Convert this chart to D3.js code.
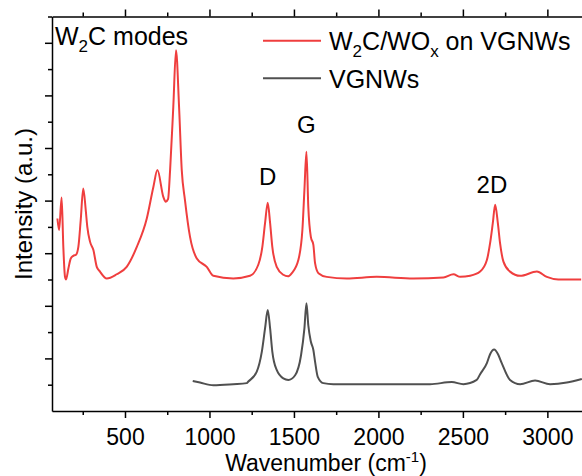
<!DOCTYPE html>
<html>
<head>
<meta charset="utf-8">
<script src="https://cdn.jsdelivr.net/npm/d3@7"></script>
<style>
  body { margin: 0; background: #fff; }
  svg { display: block; font-family: "Liberation Sans", Arial, sans-serif; }
</style>
</head>
<body>
<div id="chart"></div>
<script>
const width = 582;
const height = 476;
const margin = { top: 16.5, right: 0, bottom: 65, left: 52 };

const redColor = '#ef3e3e';
const greyColor = '#505050';

// W2C/WOx on VGNWs spectrum (wavenumber, intensity a.u.)
const redWn = [100, 110, 125, 135, 145, 151, 165, 179, 194, 210, 224, 238, 253, 268, 277, 293, 313, 333, 352, 392,
  451, 510, 570, 629, 668, 692, 727, 741, 755, 767, 786, 802, 820, 836, 855, 885, 925, 984, 1023, 1141,
  1240, 1289, 1313, 1329, 1345, 1359, 1372, 1398, 1437, 1465, 1487, 1526, 1550, 1562, 1574, 1585, 1600, 1615, 1625, 1645,
  1694, 1813, 1990, 2207, 2385, 2444, 2484, 2543, 2602, 2642, 2661, 2677, 2691, 2707, 2720, 2740, 2779, 2839, 2938, 2997,
  3065, 3200];
const redInt = [3.66, 3.44, 4.06, 3.12, 2.55, 2.50, 2.71, 2.90, 2.95, 2.97, 3.12, 3.63, 4.23, 3.81, 3.50, 3.22, 3.06, 2.74, 2.65, 2.52,
  2.60, 2.74, 3.12, 3.66, 4.26, 4.58, 4.07, 3.98, 4.03, 4.58, 5.79, 6.86, 5.79, 4.58, 4.01, 3.31, 2.90, 2.74, 2.57, 2.52,
  2.57, 2.78, 3.12, 3.57, 3.96, 3.57, 3.12, 2.74, 2.59, 2.56, 2.62, 2.87, 3.44, 4.20, 4.93, 3.88, 3.31, 3.16, 2.81, 2.62,
  2.55, 2.52, 2.55, 2.52, 2.54, 2.60, 2.55, 2.57, 2.65, 2.87, 3.19, 3.57, 3.92, 3.57, 3.19, 2.84, 2.65, 2.57, 2.65, 2.55,
  2.50, 2.50];

// VGNWs spectrum
const greyWn = [901, 944, 1023, 1141, 1221, 1230, 1280, 1310, 1329, 1345, 1359, 1372, 1398, 1437, 1467, 1507, 1542, 1562, 1574, 1585,
  1600, 1615, 1625, 1641, 1674, 1733, 2010, 2306, 2434, 2503, 2582, 2602, 2642, 2661, 2685, 2708, 2730, 2779, 2839, 2927,
  3016, 3115, 3204];
const greyInt = [0.57, 0.54, 0.49, 0.51, 0.53, 0.56, 0.75, 1.13, 1.57, 1.92, 1.57, 1.13, 0.78, 0.62, 0.59, 0.68, 1.06, 1.57, 2.05, 1.63,
  1.32, 1.16, 0.94, 0.65, 0.53, 0.51, 0.51, 0.51, 0.55, 0.51, 0.59, 0.70, 0.91, 1.08, 1.17, 1.08, 0.91, 0.59, 0.51, 0.58,
  0.51, 0.54, 0.61];

const xMajor = [500, 1000, 1500, 2000, 2500, 3000];
const xMinor = [250, 750, 1250, 1750, 2250, 2750];
const yMajor = [1, 2, 3, 4, 5, 6, 7];
const yMinor = [0.5, 1.5, 2.5, 3.5, 4.5, 5.5, 6.5, 7.5];

const peakLabels = [
  { text: 'D', wn: 1345, y: 4.30 },
  { text: 'G', wn: 1574, y: 5.28 },
  { text: '2D', wn: 2672, y: 4.15 },
];

const svg = d3.select('#chart').append('svg')
  .attr('width', width)
  .attr('height', height);

const x = d3.scaleLinear().domain([68, 3205]).range([margin.left, width - margin.right]);
const y = d3.scaleLinear().domain([0, 7.5]).range([height - margin.bottom, margin.top]);
const bottomY = height - margin.bottom;

svg.append('defs').append('clipPath').attr('id', 'plot-clip')
  .append('rect')
  .attr('x', margin.left).attr('y', margin.top)
  .attr('width', width - margin.left - margin.right)
  .attr('height', bottomY - margin.top);

const line = d3.line()
  .x((d) => x(d[0]))
  .y((d) => y(d[1]))
  .curve(d3.curveMonotoneX);

const plot = svg.append('g').attr('clip-path', 'url(#plot-clip)');

plot.append('path') // VGNWs
  .datum(d3.zip(greyWn, greyInt))
  .attr('fill', 'none')
  .attr('stroke', greyColor)
  .attr('stroke-width', 2)
  .attr('d', line);

plot.append('path') // W2C/WOx on VGNWs
  .datum(d3.zip(redWn, redInt))
  .attr('fill', 'none')
  .attr('stroke', redColor)
  .attr('stroke-width', 2)
  .attr('d', line);

// Axes: majors and minors drawn as separate d3 axes
const styleAxis = (g) => {
  g.selectAll('.domain').attr('stroke', '#000').attr('stroke-width', 1.5);
  g.selectAll('.tick line').attr('stroke', '#000').attr('stroke-width', 1.5);
};

svg.append('g')
  .attr('transform', `translate(0,${bottomY})`)
  .call(d3.axisBottom(x).tickValues(xMajor).tickSize(7).tickSizeOuter(0).tickFormat(d3.format('d')))
  .call(styleAxis)
  .call((g) => g.selectAll('.tick text')
    .attr('dy', null)
    .attr('y', 33.5)
    .attr('fill', '#000')
    .style('font-size', '23px')
    .style('font-family', '"Liberation Sans", Arial, sans-serif'));

svg.append('g')
  .attr('transform', `translate(0,${bottomY})`)
  .call(d3.axisBottom(x).tickValues(xMinor).tickSize(4).tickFormat(''))
  .call(styleAxis)
  .call((g) => g.select('.domain').remove());

svg.append('g')
  .attr('transform', `translate(0,${margin.top})`)
  .call(d3.axisTop(x).tickValues(xMajor).tickSize(7).tickSizeOuter(0).tickFormat(''))
  .call(styleAxis);

svg.append('g')
  .attr('transform', `translate(0,${margin.top})`)
  .call(d3.axisTop(x).tickValues(xMinor).tickSize(4).tickFormat(''))
  .call(styleAxis)
  .call((g) => g.select('.domain').remove());

svg.append('g')
  .attr('transform', `translate(${margin.left},0)`)
  .call(d3.axisLeft(y).tickValues(yMajor).tickSize(7).tickSizeOuter(0).tickFormat(''))
  .call(styleAxis);

svg.append('g')
  .attr('transform', `translate(${margin.left},0)`)
  .call(d3.axisLeft(y).tickValues(yMinor).tickSize(4).tickFormat(''))
  .call(styleAxis)
  .call((g) => g.select('.domain').remove());

// Axis titles
const xTitle = svg.append('text')
  .attr('x', 326)
  .attr('y', 471)
  .attr('text-anchor', 'middle')
  .style('font-size', '23px');
xTitle.append('tspan').text('Wavenumber (cm');
xTitle.append('tspan').attr('dy', -9).style('font-size', '15px').text('-1');
xTitle.append('tspan').attr('dy', 9).text(')');

svg.append('text')
  .attr('transform', 'translate(32,204) rotate(-90)')
  .attr('text-anchor', 'middle')
  .style('font-size', '24px')
  .text('Intensity (a.u.)');

// Annotation in the corner
const modes = svg.append('text')
  .attr('x', 55)
  .attr('y', 45)
  .style('font-size', '25px');
modes.append('tspan').text('W');
modes.append('tspan').attr('dy', 7).style('font-size', '17px').text('2');
modes.append('tspan').attr('dy', -7).text('C modes');

// Peak labels
svg.selectAll('.peak-label')
  .data(peakLabels)
  .enter()
  .append('text')
  .attr('class', 'peak-label')
  .attr('x', (d) => x(d.wn))
  .attr('y', (d) => y(d.y))
  .attr('text-anchor', 'middle')
  .style('font-size', '24px')
  .text((d) => d.text);

// Legend
const legend = svg.append('g');
legend.append('line')
  .attr('x1', 263).attr('x2', 321).attr('y1', 40.7).attr('y2', 40.7)
  .attr('stroke', redColor).attr('stroke-width', 2);
legend.append('line')
  .attr('x1', 263).attr('x2', 321).attr('y1', 78.3).attr('y2', 78.3)
  .attr('stroke', greyColor).attr('stroke-width', 2);

const l1 = legend.append('text').attr('x', 329).attr('y', 50).style('font-size', '25px');
l1.append('tspan').text('W');
l1.append('tspan').attr('dy', 7).style('font-size', '17px').text('2');
l1.append('tspan').attr('dy', -7).text('C/WO');
l1.append('tspan').attr('dy', 7).style('font-size', '17px').text('x');
l1.append('tspan').attr('dy', -7).text(' on VGNWs');

legend.append('text').attr('x', 329).attr('y', 87.5).style('font-size', '25px').text('VGNWs');
</script>
</body>
</html>
